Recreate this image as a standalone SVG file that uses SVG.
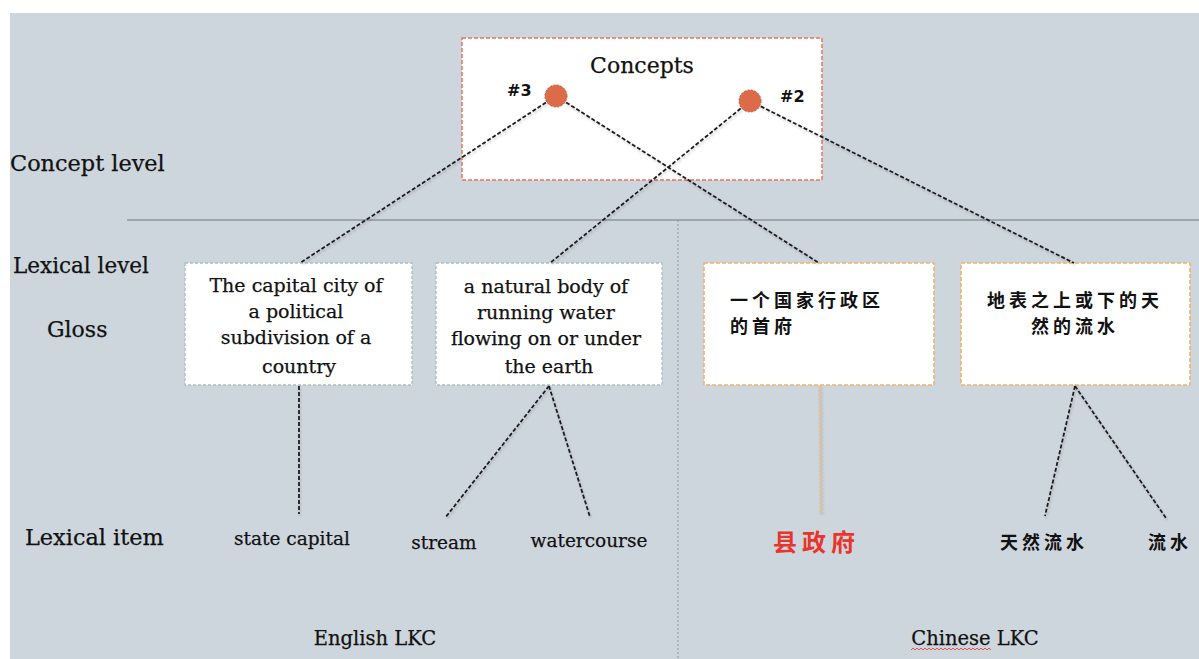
<svg xmlns="http://www.w3.org/2000/svg" width="1199" height="659" viewBox="0 0 1199 659">
  <defs>
    <style>
      .serif { font-family: "DejaVu Serif", "Liberation Serif", serif; fill: #111; stroke: #111; stroke-width: 0.25; }
      .cjk { font-family: "Noto Sans CJK SC", sans-serif; font-weight: bold; fill: #111; }
      .tag { font-family: "DejaVu Sans", "Liberation Sans", sans-serif; font-weight: bold; font-size: 16px; fill: #111; }
      .link { stroke: #1e1e1e; stroke-width: 1.8; stroke-dasharray: 4 2; fill: none; }
      .gloss-en { fill: #fff; stroke: #a9bfc0; stroke-width: 1.3; stroke-dasharray: 3 2; }
      .gloss-zh { fill: #fff; stroke: #f0b26a; stroke-width: 1.6; stroke-dasharray: 4 2; }
    </style>
    <filter id="soft" x="-10%" y="-10%" width="120%" height="120%">
      <feDropShadow dx="1" dy="2" stdDeviation="1.2" flood-color="#000" flood-opacity="0.18"/>
    </filter>
  </defs>

  <!-- page background and panel -->
  <rect x="0" y="0" width="1199" height="659" fill="#ffffff"/>
  <rect x="10" y="13" width="1189" height="646" fill="#ced6dd"/>

  <!-- level divider and language divider -->
  <line x1="127" y1="220" x2="1199" y2="220" stroke="#8c959c" stroke-width="1.5"/>
  <line x1="678" y1="220" x2="678" y2="659" stroke="#8a9298" stroke-width="1" stroke-dasharray="2 2"/>

  <!-- row labels -->
  <g id="labels">
    <text class="serif" x="10" y="171" font-size="22.4">Concept level</text>
    <text class="serif" x="13" y="273" font-size="21.5">Lexical level</text>
    <text class="serif" x="47" y="337" font-size="22">Gloss</text>
    <text class="serif" x="25" y="545" font-size="22.4">Lexical item</text>
    <text class="serif" x="375" y="645" font-size="19.5" text-anchor="middle">English LKC</text>
    <text class="serif" x="975" y="645" font-size="19.5" text-anchor="middle">Chinese LKC</text>
    <path d="M911 650 l2 -2 l2 2 l2 -2 l2 2 l2 -2 l2 2 l2 -2 l2 2 l2 -2 l2 2 l2 -2 l2 2 l2 -2 l2 2 l2 -2 l2 2 l2 -2 l2 2 l2 -2 l2 2 l2 -2 l2 2 l2 -2 l2 2 l2 -2 l2 2 l2 -2 l2 2 l2 -2 l2 2 l2 -2 l2 2 l2 -2 l2 2 l2 -2 l2 2 l2 -2 l2 2 l2 -2 l2 2" fill="none" stroke="#e05050" stroke-width="1"/>
  </g>

  <!-- concept box -->
  <g id="concepts">
    <rect x="462" y="38" width="360" height="142" fill="#fff" stroke="#e8745a" stroke-width="1.5" stroke-dasharray="4 2"/>
    <text class="serif" x="642" y="73" font-size="22" text-anchor="middle">Concepts</text>
  </g>

  <!-- glosses -->
  <g id="gloss-capital-en">
    <rect class="gloss-en" x="185" y="263" width="227" height="122"/>
    <text class="serif" font-size="19" text-anchor="middle">
      <tspan x="299" y="292">The capital city of</tspan>
      <tspan x="299" y="318">a political</tspan>
      <tspan x="299" y="344">subdivision of a</tspan>
      <tspan x="299" y="373">country</tspan>
    </text>
  </g>
  <g id="gloss-stream-en">
    <rect class="gloss-en" x="436" y="263" width="226" height="122"/>
    <text class="serif" font-size="19" text-anchor="middle">
      <tspan x="549" y="293">a natural body of</tspan>
      <tspan x="549" y="319">running water</tspan>
      <tspan x="549" y="345">flowing on or under</tspan>
      <tspan x="549" y="373">the earth</tspan>
    </text>
  </g>
  <g id="gloss-capital-zh">
    <rect class="gloss-zh" x="704" y="263" width="230" height="122"/>
    <text class="cjk" font-size="18" letter-spacing="4">
      <tspan x="730" y="307">一个国家行政区</tspan>
      <tspan x="730" y="333">的首府</tspan>
    </text>
  </g>
  <g id="gloss-stream-zh">
    <rect class="gloss-zh" x="961" y="263" width="229" height="122"/>
    <text class="cjk" font-size="18" letter-spacing="4">
      <tspan x="987" y="307">地表之上或下的天</tspan>
      <tspan x="1031" y="333">然的流水</tspan>
    </text>
  </g>

  <!-- connectors -->
  <g id="connectors" filter="url(#soft)">
    <line class="link" x1="556" y1="96" x2="300" y2="263"/>
    <line class="link" x1="556" y1="96" x2="819" y2="263"/>
    <line class="link" x1="750" y1="101" x2="550" y2="263"/>
    <line class="link" x1="750" y1="101" x2="1074" y2="263"/>
    <line class="link" x1="299" y1="386" x2="299" y2="514"/>
    <line class="link" x1="549" y1="386" x2="445" y2="518"/>
    <line class="link" x1="549" y1="386" x2="590" y2="517"/>
    <line x1="820" y1="386" x2="821" y2="512" stroke="#e3c08e" stroke-width="3" stroke-dasharray="2 2"/>
    <line class="link" x1="1075" y1="386" x2="1045" y2="516"/>
    <line class="link" x1="1075" y1="386" x2="1166" y2="518"/>
  </g>

  <!-- concept nodes -->
  <g id="concept-3">
    <circle cx="556" cy="96" r="11" fill="#dc6b4a" stroke="#c85a3c" stroke-width="1" stroke-dasharray="2 1.5"/>
    <text class="tag" x="507" y="96">#3</text>
  </g>
  <g id="concept-2">
    <circle cx="750" cy="101" r="11" fill="#dc6b4a" stroke="#c85a3c" stroke-width="1" stroke-dasharray="2 1.5"/>
    <text class="tag" x="780" y="102">#2</text>
  </g>

  <!-- lexical items -->
  <g id="item-state-capital"><text class="serif" x="292" y="545" font-size="18.5" text-anchor="middle">state capital</text></g>
  <g id="item-stream"><text class="serif" x="444" y="549" font-size="18.5" text-anchor="middle">stream</text></g>
  <g id="item-watercourse"><text class="serif" x="589" y="547" font-size="18.5" text-anchor="middle">watercourse</text></g>
  <g id="item-xianzhengfu"><text class="cjk" x="773" y="551" font-size="24" letter-spacing="5" style="fill:#e8352c">县政府</text></g>
  <g id="item-tianranliushui"><text class="cjk" x="1000" y="549" font-size="18" letter-spacing="4">天然流水</text></g>
  <g id="item-liushui"><text class="cjk" x="1148" y="549" font-size="18" letter-spacing="4">流水</text></g>
</svg>
